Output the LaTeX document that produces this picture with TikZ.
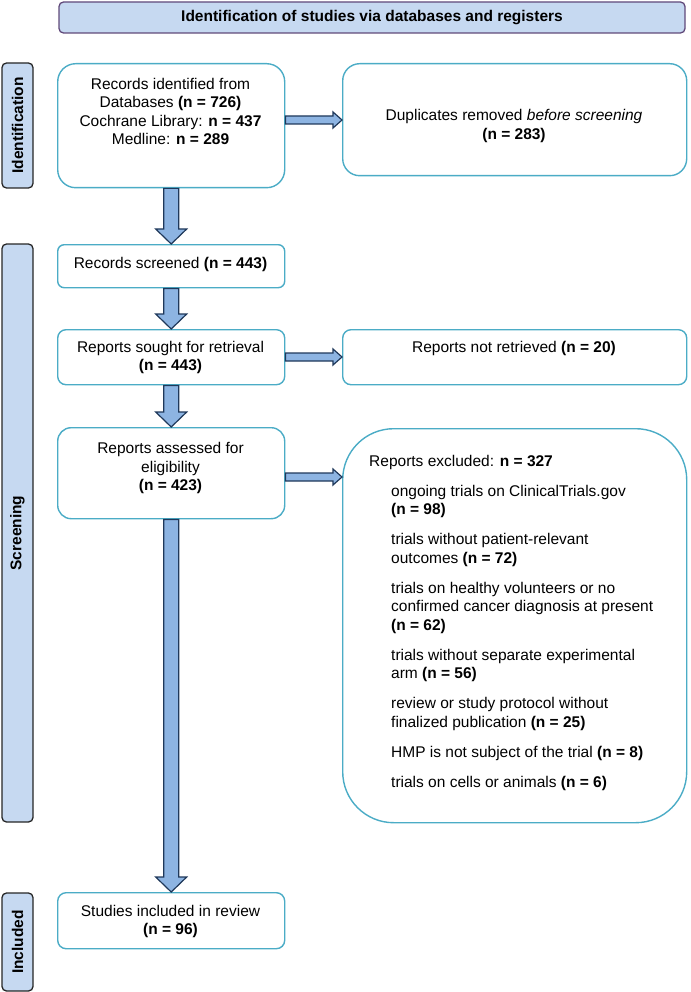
\documentclass[tikz,border=0pt]{standalone}
\usepackage{fontspec}
\setmainfont{Liberation Sans}
\usetikzlibrary{calc}
\definecolor{boxc}{RGB}{75,172,198}
\definecolor{arrfill}{RGB}{141,180,226}
\definecolor{arrdraw}{RGB}{31,56,90}
\definecolor{labfill}{RGB}{198,217,241}
\definecolor{banborder}{RGB}{96,73,122}
\newcommand\vfatarrow[2]{\draw[fatarr] let \p1=(#1), \p2=(#2) in
  (\x1-7.5pt,\y1) -- (\x1-7.5pt,\y2+15pt) -- (\x1-15.5pt,\y2+15pt) -- (\x1,\y2)
  -- (\x1+15.5pt,\y2+15pt) -- (\x1+7.5pt,\y2+15pt) -- (\x1+7.5pt,\y1) -- cycle;}
\newcommand\hfatarrow[2]{\draw[fatarr] let \p1=(#1), \p2=(#2) in
  (\x1,\y1+4pt) -- (\x2-9pt,\y1+4pt) -- (\x2-9pt,\y1+8pt) -- (\x2,\y1)
  -- (\x2-9pt,\y1-8pt) -- (\x2-9pt,\y1-4pt) -- (\x1,\y1-4pt) -- cycle;}
\begin{document}
\begin{tikzpicture}[x=1pt,y=-1pt,
  box/.style={draw=boxc, line width=1.4pt, fill=white, inner sep=0pt, anchor=north west},
  txt/.style={font=\fontsize{15.5}{18.5}\selectfont, align=center, inner sep=0pt},
  lab/.style={draw=black!85, line width=1.3pt, fill=labfill, rounded corners=4.5pt,
    inner sep=0pt, rotate=90, font=\fontsize{15.5}{18.5}\selectfont\bfseries},
  fatarr/.style={draw=arrdraw, line width=1.2pt, fill=arrfill, line join=miter}]
\useasboundingbox (0,0) rectangle (690,992);

% banner
\node[draw=banborder, line width=1.3pt, fill=labfill, rounded corners=4.5pt,
  minimum width=626pt, minimum height=31pt, inner sep=0pt,
  font=\fontsize{15.5}{18.5}\selectfont\bfseries] (ban) at (372,17.5)
  {Identification of studies via databases and registers};

% side labels
\node[lab, minimum width=125pt, minimum height=31pt] (idl) at (17.5,125.5) {Identification};
\node[lab, minimum width=578pt, minimum height=31pt] (scl) at (17.5,533) {Screening};
\node[lab, minimum width=98pt, minimum height=31pt] (incl) at (17.5,942) {Included};

% boxes
\node[box, rounded corners=18pt, minimum width=227pt, minimum height=124pt] (b1) at (57,63) {};
\node[box, rounded corners=17pt, minimum width=344pt, minimum height=112pt] (dup) at (342,63) {};
\node[box, rounded corners=6.5pt, minimum width=227pt, minimum height=43pt] (scr) at (57,244) {};
\node[box, rounded corners=8.3pt, minimum width=227pt, minimum height=55pt] (sou) at (57,329) {};
\node[box, rounded corners=8.3pt, minimum width=344pt, minimum height=55pt] (nret) at (342,329) {};
\node[box, rounded corners=13.5pt, minimum width=227pt, minimum height=91pt] (ass) at (57,427) {};
\node[box, rounded corners=51pt, minimum width=344pt, minimum height=394pt] (exc) at (342,428) {};
\node[box, rounded corners=8.4pt, minimum width=227pt, minimum height=56pt] (inc) at (57,892) {};

% texts
\node[txt] (b1t) at (170.5,111.5) {Records identified from\\Databases \textbf{(n = 726)}\\Cochrane Library: \textbf{n = 437}\\Medline: \textbf{n = 289}};
\node[txt] (dupt) at (514,126) {Duplicates removed \textit{before screening}\\\textbf{(n = 283)}};
\node[txt] (scrt) at (170.5,264) {Records screened \textbf{(n = 443)}};
\node[txt] (sout) at (170.5,357.5) {Reports sought for retrieval\\\textbf{(n = 443)}};
\node[txt] (nrett) at (514,348) {Reports not retrieved \textbf{(n = 20)}};
\node[txt] (asst) at (170.5,468) {Reports assessed for\\eligibility\\\textbf{(n = 423)}};
\node[txt] (inct) at (170.5,921.5) {Studies included in review\\\textbf{(n = 96)}};

\node[txt, anchor=base west] (exch) at (369,466) {Reports excluded: \textbf{n = 327}};
\node[inner sep=0pt, anchor=base west] (exci) at (391,496) {\begin{minipage}[t]{290pt}\raggedright
\fontsize{15.5}{18.5}\selectfont\setlength{\parskip}{11.5pt}%
ongoing trials on ClinicalTrials.gov\\\textbf{(n = 98)}\par
trials without patient-relevant\\outcomes \textbf{(n = 72)}\par
trials on healthy volunteers or no\\confirmed cancer diagnosis at present\\\textbf{(n = 62)}\par
trials without separate experimental\\arm \textbf{(n = 56)}\par
review or study protocol without\\finalized publication \textbf{(n = 25)}\par
HMP is not subject of the trial \textbf{(n = 8)}\par
trials on cells or animals \textbf{(n = 6)}\par
\end{minipage}};

% arrows
\vfatarrow{b1.south}{scr.north}
\vfatarrow{scr.south}{sou.north}
\vfatarrow{sou.south}{ass.north}
\vfatarrow{ass.south}{inc.north}
\coordinate (h1) at (0,120);
\coordinate (h2) at (0,357);
\coordinate (h3) at (0,477);
\hfatarrow{b1.east |- h1}{dup.west |- h1}
\hfatarrow{sou.east |- h2}{nret.west |- h2}
\hfatarrow{ass.east |- h3}{exc.west |- h3}
\end{tikzpicture}
\end{document}
